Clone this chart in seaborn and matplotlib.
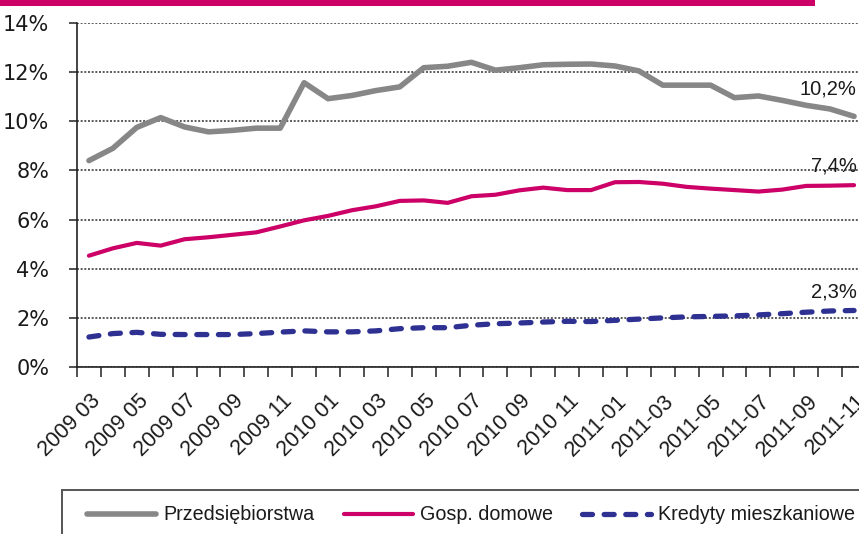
import numpy as np
import pandas as pd
import seaborn as sns
import matplotlib
matplotlib.use("Agg")
import matplotlib.pyplot as plt
import matplotlib.transforms as mtransforms
from matplotlib.patches import Rectangle

# Monthly periods, March 2009 - November 2011
months = (["2009 %02d" % m for m in range(3, 13)]
          + ["2010 %02d" % m for m in range(1, 13)]
          + ["2011-%02d" % m for m in range(1, 12)])

# Share of non-performing loans, %
przedsiebiorstwa = [8.4, 8.9, 9.75, 10.15, 9.77, 9.57, 9.63, 9.72, 9.72, 11.57,
                    10.92, 11.05, 11.25, 11.4, 12.18, 12.24, 12.4, 12.08, 12.18,
                    12.3, 12.32, 12.33, 12.25, 12.05, 11.47, 11.47, 11.47, 10.96,
                    11.03, 10.85, 10.65, 10.5, 10.2]
gosp_domowe = [4.53, 4.83, 5.05, 4.94, 5.2, 5.28, 5.38, 5.48, 5.72, 5.97, 6.15,
               6.38, 6.54, 6.76, 6.78, 6.68, 6.95, 7.01, 7.19, 7.3, 7.2, 7.2,
               7.52, 7.53, 7.46, 7.33, 7.26, 7.2, 7.14, 7.22, 7.37, 7.38, 7.4]
kredyty_mieszk = [1.22, 1.36, 1.41, 1.33, 1.32, 1.32, 1.32, 1.36, 1.42, 1.47,
                  1.43, 1.43, 1.47, 1.56, 1.6, 1.6, 1.7, 1.76, 1.79, 1.83, 1.86,
                  1.85, 1.9, 1.95, 2.0, 2.04, 2.06, 2.08, 2.12, 2.17, 2.23, 2.28,
                  2.3]

series_names = ["Przedsiębiorstwa", "Gosp. domowe", "Kredyty mieszkaniowe"]
series_values = [przedsiebiorstwa, gosp_domowe, kredyty_mieszk]
y_ticks = [0, 2, 4, 6, 8, 10, 12, 14]

colors = ["#878787", "#CC0066", "#2E3192"]
widths = [4.0, 3.0, 3.8]
styles = ["-", "-", (0, (1.9, 2.2))]
label_offsets = [(2, 20), (2, 14), (2, 13.5)]  # points, relative to last value

sns.set_theme(style="white")
plt.rcParams["font.family"] = ["Liberation Sans", "DejaVu Sans"]

W, H = 859, 534
fig = plt.figure(figsize=(W / 100, H / 100), dpi=100)
ax = fig.add_axes([77 / W, 1 - 367 / H, 789 / W, 344 / H])

x = np.arange(len(months))
for name, vals, c, lw, ls in zip(series_names, series_values, colors, widths, styles):
    df = pd.DataFrame({"okres": x, "wartosc": vals})
    sns.lineplot(data=df, x="okres", y="wartosc", ax=ax, color=c, linewidth=lw,
                 linestyle=ls, label=name, solid_capstyle="round",
                 dash_capstyle="round", legend=False)

# value labels at the last month
for vals, (dx, dy) in zip(series_values, label_offsets):
    v = vals[-1]
    ax.annotate(("%.1f%%" % v).replace(".", ","), xy=(x[-1], v),
                xytext=(dx, dy), textcoords="offset points",
                ha="right", va="center", fontsize=14.5, color="#1a1a1a")

ax.set_xlim(-0.5, len(months) - 0.5)
ax.set_ylim(0, 14)
ax.set_xlabel("")
ax.set_ylabel("")

# y axis
ax.set_yticks(y_ticks)
ax.set_yticklabels(["%d%%" % t for t in y_ticks], fontfamily="DejaVu Sans",
                   fontsize=15, color="#1a1a1a")
ax.tick_params(axis="y", which="major", direction="out", length=6, width=1.1,
               color="#222222", pad=14, left=True)
ax.yaxis.grid(True, linestyle=(0, (1.2, 1.1)), color="#333333", linewidth=1.15)
ax.xaxis.grid(False)

# x axis: ticks between categories, labels on every second month
ax.set_xticks(x[::2])
ax.set_xticklabels([months[i] for i in x[::2]], rotation=45, ha="right",
                   va="top", rotation_mode="anchor", fontsize=15.5,
                   color="#1a1a1a")
ax.set_xticks(np.arange(-0.5, len(months), 1.0), minor=True)
ax.tick_params(axis="x", which="major", length=0, pad=17)
ax.tick_params(axis="x", which="minor", direction="out", length=7, width=1.1,
               color="#222222", bottom=True)
shift = mtransforms.ScaledTranslation(1 / 100, 0, fig.dpi_scale_trans)
for lab in ax.get_xticklabels():
    lab.set_transform(lab.get_transform() + shift)

for s in ["top", "right"]:
    ax.spines[s].set_visible(False)
for s in ["left", "bottom"]:
    ax.spines[s].set_color("#222222")
    ax.spines[s].set_linewidth(1.2)
ax.set_axisbelow(True)

# legend inside an open-ended frame
fig.patches.append(Rectangle((62 / W, -0.1), 1.0, 1 - 490 / H + 0.1,
                             transform=fig.transFigure, fill=False,
                             edgecolor="#555555", linewidth=1.4))
handles, labels = ax.get_legend_handles_labels()
fig.legend(handles, labels, loc="center left",
           bbox_to_anchor=(87 / W, 1 - 515 / H), ncol=3, frameon=False,
           fontsize=14.2, handlelength=3.5, handletextpad=0.35,
           columnspacing=1.5, borderpad=0, borderaxespad=0,
           labelcolor="#1a1a1a")

# accent bar along the top edge
fig.patches.append(Rectangle((0, 1 - 6 / H), 815 / W, 6 / H,
                             transform=fig.transFigure, color="#CC0066",
                             linewidth=0))

fig.savefig("out.png", dpi=100)
